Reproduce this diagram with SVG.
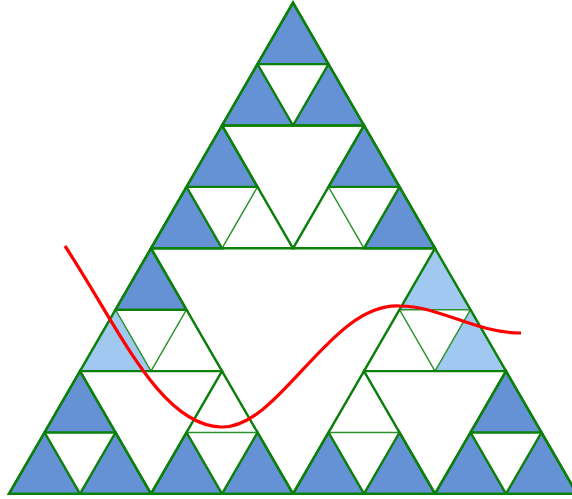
<svg xmlns="http://www.w3.org/2000/svg" width="572" height="499" viewBox="0 0 572 499">
<style>
.dk{fill:#6591d5;stroke:#0b800b;stroke-width:2.4;stroke-linejoin:miter}
.lt{fill:#a0c8f1;stroke:#2a922a;stroke-width:1.4}
.wt{fill:#ffffff;stroke:#2a922a;stroke-width:1.4}
.ol{fill:none;stroke:#0b800b;stroke-width:2.4;stroke-linejoin:miter}
.curve{fill:none;stroke:#ff0000;stroke-width:3.2}
</style>
<rect width="572" height="499" fill="#ffffff"/>
<g id="light-and-white">
<polygon class="wt" points="257.5,186.9 222,248.3 293,248.3"/>
<polygon class="wt" points="328.5,186.9 293,248.3 364,248.3"/>
<polygon class="lt" points="435,248.3 399.5,309.7 470.5,309.7"/>
<polygon class="lt" points="115.5,309.7 80,371.1 151,371.1"/>
<polygon class="wt" points="186.5,309.7 151,371.1 222,371.1"/>
<polygon class="wt" points="399.5,309.7 364,371.1 435,371.1"/>
<polygon class="lt" points="470.5,309.7 435,371.1 506,371.1"/>
<polygon class="wt" points="222,371.1 186.5,432.5 257.5,432.5"/>
<polygon class="wt" points="364,371.1 328.5,432.5 399.5,432.5"/>
</g>
<g id="dark">
<polygon class="dk" points="293,2.7 257.5,64.1 328.5,64.1"/>
<polygon class="dk" points="257.5,64.1 222,125.5 293,125.5"/>
<polygon class="dk" points="328.5,64.1 293,125.5 364,125.5"/>
<polygon class="dk" points="222,125.5 186.5,186.9 257.5,186.9"/>
<polygon class="dk" points="364,125.5 328.5,186.9 399.5,186.9"/>
<polygon class="dk" points="186.5,186.9 151,248.3 222,248.3"/>
<polygon class="dk" points="399.5,186.9 364,248.3 435,248.3"/>
<polygon class="dk" points="151,248.3 115.5,309.7 186.5,309.7"/>
<polygon class="dk" points="80,371.1 44.5,432.5 115.5,432.5"/>
<polygon class="dk" points="506,371.1 470.5,432.5 541.5,432.5"/>
<polygon class="dk" points="44.5,432.5 9,493.9 80,493.9"/>
<polygon class="dk" points="115.5,432.5 80,493.9 151,493.9"/>
<polygon class="dk" points="186.5,432.5 151,493.9 222,493.9"/>
<polygon class="dk" points="257.5,432.5 222,493.9 293,493.9"/>
<polygon class="dk" points="328.5,432.5 293,493.9 364,493.9"/>
<polygon class="dk" points="399.5,432.5 364,493.9 435,493.9"/>
<polygon class="dk" points="470.5,432.5 435,493.9 506,493.9"/>
<polygon class="dk" points="541.5,432.5 506,493.9 577,493.9"/>
</g>
<g id="outlines">
<polygon class="ol" points="293,2.7 222,125.5 364,125.5"/>
<polygon class="ol" points="222,125.5 151,248.3 293,248.3"/>
<polygon class="ol" points="364,125.5 293,248.3 435,248.3"/>
<polygon class="ol" points="151,248.3 80,371.1 222,371.1"/>
<polygon class="ol" points="80,371.1 9,493.9 151,493.9"/>
<polygon class="ol" points="222,371.1 151,493.9 293,493.9"/>
<polygon class="ol" points="435,248.3 364,371.1 506,371.1"/>
<polygon class="ol" points="364,371.1 293,493.9 435,493.9"/>
<polygon class="ol" points="506,371.1 435,493.9 577,493.9"/>
</g>
<g id="connectors">
<path class="curve" d="M65,246 C120,330 160,425 221,427 C280,429 330,302 400,306 C440,306 475,333 521,333"/>
</g>
</svg>
